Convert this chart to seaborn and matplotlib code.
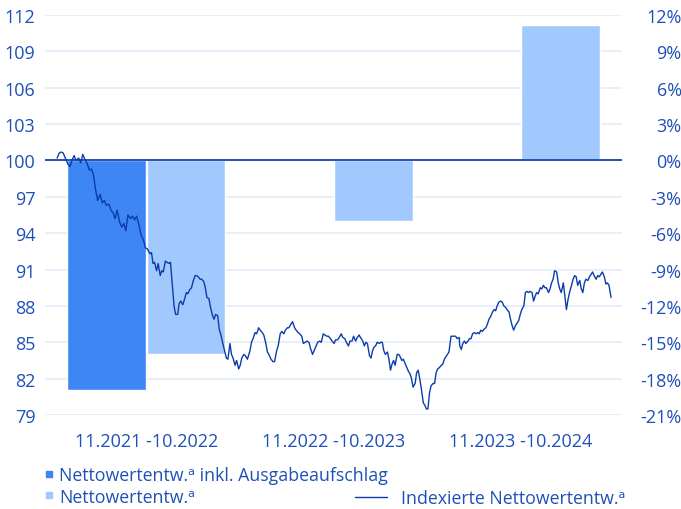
import pandas as pd
import numpy as np
import matplotlib.pyplot as plt
import matplotlib.transforms as mtransforms
import seaborn as sns
from matplotlib.lines import Line2D

# bar data (yearly performance in %)
periods = ['11.2021 -10.2022', '11.2022 -10.2023', '11.2023 -10.2024']
perf_inkl = [-18.95, np.nan, np.nan]
perf_netto = [-15.97, -5.0, 11.17]
label_inkl = 'Nettowertentw.ᵃ inkl. Ausgabeaufschlag'
label_netto = 'Nettowertentw.ᵃ'
label_index = 'Indexierte Nettowertentw.ᵃ'

# indexed NAV in segments (start date, end date, values)
seg_a = ('2021-11-10', '2022-05-10', [
    100.2, 100.6, 100.7, 100.6, 100.2, 99.7, 99.5, 100.0, 100.4, 100.0, 100.2, 99.8,
    100.5, 100.1, 99.8, 99.2, 99.3, 98.8, 97.6, 96.7, 97.2, 96.5, 96.7, 96.3, 96.4,
    95.9, 95.7, 95.2, 95.9, 94.9, 94.5, 94.8, 94.2, 95.5, 95.2, 95.4, 95.1, 95.4,
    94.8, 93.8, 93.5, 92.8, 92.7, 92.3])
seg_b = ('2022-05-13', '2022-11-16', [
    92.4, 91.5, 91.6, 90.9, 91.5, 90.5, 90.9, 90.8, 91.7, 91.6, 91.5, 91.6, 90.1,
    88.0, 87.3, 87.3, 88.2, 88.4, 88.1, 88.5, 89.1, 89.0, 89.3, 89.5, 90.0, 90.5,
    90.5, 90.4, 90.2, 90.2, 90.0, 89.5, 88.7, 88.6, 87.9, 87.2, 86.9, 87.3, 87.2,
    86.1, 85.5, 84.9, 84.4, 83.7, 83.6, 84.9, 84.0, 83.7, 83.1, 83.5, 82.8, 83.1,
    83.7, 84.0, 83.9, 83.6])
seg_c = ('2022-11-21', '2023-06-22', [
    84.3, 85.0, 85.3, 85.8, 85.7, 86.2, 86.0, 85.8, 85.6, 84.9, 84.2, 83.9, 83.6,
    83.4, 83.4, 84.3, 84.7, 85.7, 85.9, 85.7, 86.0, 86.2, 86.2, 86.5, 86.7, 86.2,
    86.0, 85.8, 85.7, 85.5, 84.9, 85.0, 85.1, 85.0, 84.5, 84.0, 84.3, 84.7, 85.0,
    85.1, 85.0, 85.7, 85.6, 85.5, 85.5, 85.3, 85.1, 84.9, 85.2, 85.2, 85.4, 85.7,
    85.4, 85.3, 85.0, 84.7, 85.1, 85.1, 85.5, 85.1, 85.4, 85.6])
seg_d = ('2023-06-23', '2024-01-03', [
    85.5, 85.3, 85.1, 84.7, 85.0, 84.9, 83.9, 83.7, 84.3, 84.6, 84.7, 85.0, 84.9,
    85.0, 85.0, 84.3, 84.0, 84.2, 83.6, 82.7, 83.2, 83.5, 83.1, 84.0, 84.0, 83.8,
    83.5, 83.6, 83.2, 82.9, 82.6, 82.4, 82.0, 81.3, 81.6, 82.5, 82.7, 82.0, 81.2,
    80.0, 79.8, 79.5, 79.5, 80.8, 81.4, 81.6, 81.6, 82.5, 82.8, 82.9, 83.1, 83.2,
    83.6, 83.8, 84.0, 84.2, 85.5, 85.5, 85.5, 85.5, 85.3, 85.4])
seg_e = ('2024-01-04', '2024-10-25', [
    84.7, 84.4, 84.9, 85.1, 84.9, 85.1, 85.3, 85.3, 85.7, 85.8, 85.7, 85.8, 85.7,
    86.0, 85.9, 86.1, 86.2, 86.5, 86.9, 87.1, 87.5, 87.7, 87.6, 88.0, 88.3, 88.4,
    88.3, 88.0, 87.9, 87.7, 87.5, 86.9, 86.4, 86.0, 86.4, 86.6, 86.8, 87.3, 87.7,
    88.0, 89.1, 89.2, 89.1, 89.2, 89.1, 88.4, 88.8, 89.1, 89.0, 89.5, 89.4, 89.7,
    89.5, 89.5, 89.1, 89.4, 89.9, 90.2, 90.9, 90.8, 89.9, 89.4, 89.1, 89.9, 88.8,
    87.7, 88.5, 89.1, 89.7, 90.2, 90.5, 90.4, 89.7, 90.1, 89.4, 89.1, 89.9, 90.2,
    90.1, 90.4, 90.6, 90.8, 90.5, 90.2, 90.5, 90.4, 90.6, 90.8, 90.4, 89.8, 89.9,
    89.7, 88.7])

dark = '#3d86f4'
light = '#a2c9fd'
navy = '#0b3daa'
txt = '#1f50b8'
gridc = '#e1ecfa'

sns.set_theme(style='white')
plt.rcParams['font.family'] = ['Open Sans', 'DejaVu Sans']

bars = pd.DataFrame({
    'period': periods * 2,
    'series': [label_inkl] * 3 + [label_netto] * 3,
    'value': perf_inkl + perf_netto,
})

parts = []
for start, end, vals in [seg_a, seg_b, seg_c, seg_d, seg_e]:
    parts.append(pd.DataFrame({'date': pd.date_range(start, end, periods=len(vals)),
                               'value': vals}))
line = pd.concat(parts, ignore_index=True)
origin = pd.Timestamp('2021-11-01')
line['pos'] = (line['date'] - origin).dt.days / 365.25 - 0.5

fig = plt.figure(figsize=(6.81, 5.10), dpi=100)
ax = fig.add_axes([45 / 681, 1 - 416 / 510, 577 / 681, 400 / 510])

# bars (percent scale) on the main axes
sns.barplot(data=bars, x='period', y='value', hue='series', palette=[dark, light],
            width=0.85, gap=0.012, saturation=1, errorbar=None, legend=False, ax=ax)
ax.set_ylim(-21, 12)
ax.set_xlim(-0.54, 2.54)
ax.grid(axis='y', color=gridc, lw=1.2)
ax.set_axisbelow(True)
ax.axhline(0, color='#2452b0', lw=1.4, zorder=3)
ax.set_xlabel('')
ax.set_ylabel('')
sns.despine(ax=ax, left=True, bottom=True)

# indexed line on a twin axes
ax2 = ax.twinx()
sns.lineplot(data=line, x='pos', y='value', color=navy, lw=1.0, ax=ax2)
ax2.set_ylim(79, 112)
ax2.set_yticks(range(79, 113, 3))
ax2.set_xlabel('')
ax2.set_ylabel('')
ax2.set_xlim(-0.54, 2.54)
for s in ax2.spines.values():
    s.set_visible(False)

# tick layout: index on the left, percent on the right
ax.set_yticks(range(-21, 13, 3))
ax.set_yticklabels([f'{v}%' for v in range(-21, 13, 3)])
ax.tick_params(axis='y', left=False, labelleft=False, right=False, labelright=True,
               length=0, pad=2, labelsize=13, labelcolor=txt)
ax.tick_params(axis='x', length=0, pad=12, labelsize=13, labelcolor=txt)
ax2.tick_params(axis='y', left=False, labelleft=True, right=False, labelright=False,
                length=0, pad=7, labelsize=13, labelcolor=txt)
shift = mtransforms.ScaledTranslation(41 / 72, 0, fig.dpi_scale_trans)
for tick in ax.yaxis.get_major_ticks():
    tick.label2.set_horizontalalignment('right')
    tick.label2.set_transform(tick.label2.get_transform() + shift)

sq_handles = [Line2D([], [], marker='s', ls='none', color=dark, markersize=4.5),
              Line2D([], [], marker='s', ls='none', color=light, markersize=4.5)]
leg1 = fig.legend(sq_handles, [label_inkl, label_netto], loc='upper left',
                  bbox_to_anchor=(45 / 681, 1 - 467 / 510), frameon=False,
                  fontsize=12.8, handlelength=0.5, handletextpad=0.3,
                  labelspacing=0.2, borderpad=0, borderaxespad=0)
for t in leg1.get_texts():
    t.set_color(txt)
leg2 = fig.legend([Line2D([], [], color=navy, lw=1.0)], [label_index], loc='upper left',
                  bbox_to_anchor=(355 / 681, 1 - 490 / 510), frameon=False,
                  fontsize=12.8, handlelength=1.8, handletextpad=0.8,
                  borderpad=0, borderaxespad=0)
for t in leg2.get_texts():
    t.set_color(txt)

fig.savefig('out.png', dpi=100)
